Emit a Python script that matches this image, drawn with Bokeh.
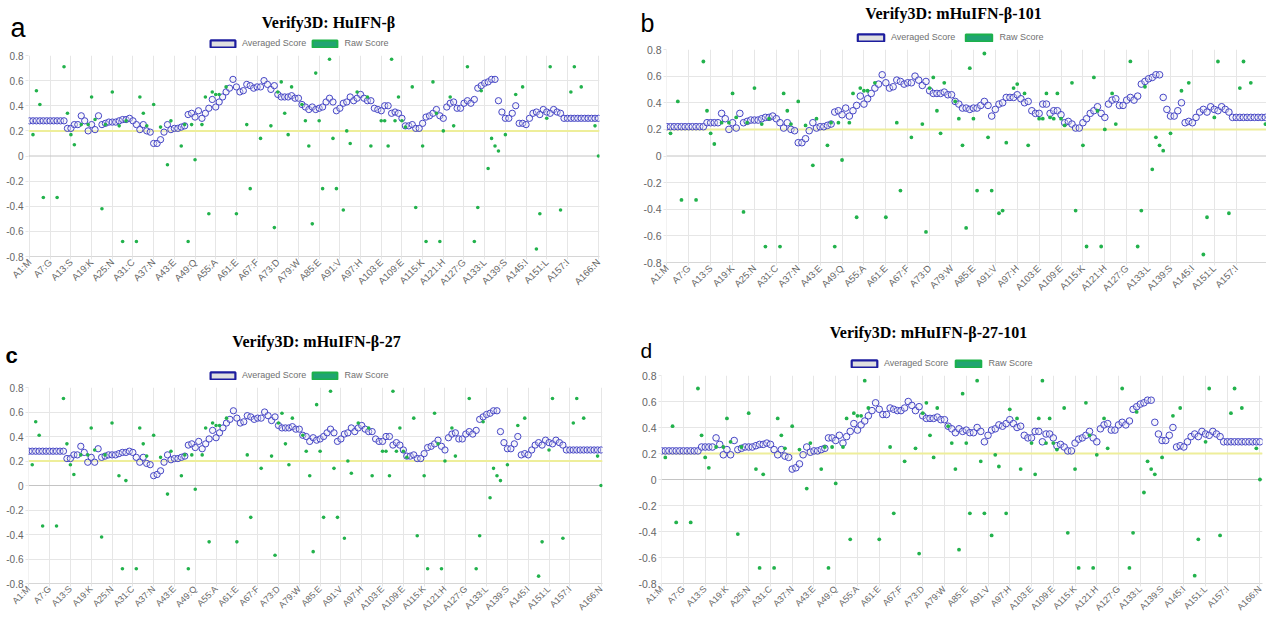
import math
import numpy as np
from bokeh.plotting import figure
from bokeh.models import (Range1d, FixedTicker, Span, Label, Legend, LegendItem,
                          ColumnDataSource, NumeralTickFormatter)
from bokeh.layouts import row, column
from bokeh.embed import file_html
from bokeh.resources import INLINE

N = None
RESIDUES = list(range(1, 167))
TICK_POS = [1, 7, 13, 19, 25, 31, 37, 43, 49, 55, 61, 67, 73, 79, 85, 91, 97, 103,
            109, 115, 121, 127, 133, 139, 145, 151, 157, 166]
TICK_LABELS = ["A1:M", "A7:G", "A13:S", "A19:K", "A25:N", "A31:C", "A37:N", "A43:E",
               "A49:Q", "A55:A", "A61:E", "A67:F", "A73:D", "A79:W", "A85:E", "A91:V",
               "A97:H", "A103:E", "A109:E", "A115:K", "A121:H", "A127:G", "A133:L",
               "A139:S", "A145:I", "A151:L", "A157:I", "A166:N"]
Y_TICKS = [-0.8, -0.6, -0.4, -0.2, 0, 0.2, 0.4, 0.6, 0.8]
THRESHOLD = 0.2
SERIES_NAMES = ["Averaged Score", "Raw Score"]

TITLE_A = "Verify3D: HuIFN-β"
TITLE_B = "Verify3D: mHuIFN-β-101"
TITLE_C = "Verify3D: mHuIFN-β-27"
TITLE_D = "Verify3D: mHuIFN-β-27-101"

AVG_A = [0.28, 0.28, 0.28, 0.28, 0.28, 0.28, 0.28, 0.28, 0.28, 0.28,
         0.28, 0.22, 0.22, 0.25, 0.25, 0.32, 0.28, 0.20, 0.25, 0.21,
         0.32, 0.25, 0.26, 0.27, 0.27, 0.27, 0.28, 0.29, 0.29, 0.30,
         0.28, 0.25, 0.21, 0.25, 0.20, 0.19, 0.10, 0.10, 0.13, 0.19,
         0.25, 0.21, 0.22, 0.22, 0.23, 0.24, 0.33, 0.34, 0.31, 0.36,
         0.30, 0.34, 0.38, 0.45, 0.39, 0.43, 0.47, 0.51, 0.54, 0.61,
         0.55, 0.51, 0.52, 0.57, 0.56, 0.54, 0.55, 0.55, 0.60, 0.57,
         0.53, 0.56, 0.49, 0.47, 0.47, 0.47, 0.48, 0.46, 0.46, 0.41,
         0.39, 0.37, 0.39, 0.37, 0.38, 0.39, 0.43, 0.46, 0.43, 0.36,
         0.38, 0.42, 0.43, 0.47, 0.44, 0.46, 0.49, 0.46, 0.44, 0.44,
         0.38, 0.37, 0.36, 0.40, 0.40, 0.34, 0.35, 0.34, 0.30, 0.24,
         0.24, 0.25, 0.22, 0.22, 0.26, 0.31, 0.32, 0.34, 0.37, 0.32,
         0.30, 0.39, 0.42, 0.43, 0.38, 0.38, 0.42, 0.44, 0.42, 0.45,
         0.54, 0.56, 0.58, 0.59, 0.61, 0.61, 0.44, 0.35, 0.30, 0.30,
         0.34, 0.40, 0.26, 0.26, 0.25, 0.30, 0.34, 0.35, 0.33, 0.37,
         0.35, 0.34, 0.37, 0.35, 0.34, 0.30, 0.30, 0.30, 0.30, 0.30,
         0.30, 0.30, 0.30, 0.30, 0.30, 0.30]

RAW_A = [N, 0.17, 0.52, 0.41, -0.33, N, N, N, -0.33, N,
         0.71, 0.34, 0.17, 0.09, N, 0.25, N, 0.25, 0.47, 0.29,
         N, -0.42, 0.25, N, 0.51, N, 0.24, -0.68, 0.28, N,
         N, -0.68, 0.47, 0.34, 0.24, N, 0.41, N, 0.23, N,
         -0.07, 0.28, N, N, 0.08, 0.25, -0.68, 0.25, -0.03, N,
         0.25, 0.47, -0.46, 0.51, 0.49, 0.49, N, 0.55, N, N,
         -0.46, N, N, 0.25, -0.26, N, N, 0.14, N, N,
         0.24, -0.57, 0.51, 0.59, 0.34, 0.17, 0.55, N, N, 0.41,
         0.28, 0.08, -0.54, 0.66, 0.28, -0.26, N, 0.77, 0.14, -0.26,
         N, -0.43, 0.20, 0.10, N, 0.51, N, N, 0.47, 0.08,
         N, N, 0.28, 0.28, 0.08, 0.77, 0.28, 0.47, 0.28, 0.23,
         N, 0.55, -0.41, N, 0.08, -0.68, N, 0.59, 0.34, -0.68,
         0.20, N, 0.47, 0.24, N, N, N, 0.71, N, -0.68,
         -0.41, 0.52, N, -0.10, 0.14, 0.08, 0.04, N, 0.17, N,
         N, 0.49, N, 0.55, N, N, N, -0.74, -0.46, N,
         0.30, 0.71, N, N, -0.43, N, N, 0.51, 0.71, N,
         0.55, N, N, N, 0.24, 0.00]

AVG_B = [0.22, 0.22, 0.22, 0.22, 0.22, 0.22, 0.22, 0.22, 0.22, 0.22,
         0.22, 0.25, 0.25, 0.25, 0.25, 0.32, 0.28, 0.20, 0.25, 0.21,
         0.32, 0.25, 0.26, 0.27, 0.27, 0.27, 0.28, 0.29, 0.29, 0.30,
         0.28, 0.25, 0.21, 0.25, 0.20, 0.19, 0.10, 0.10, 0.13, 0.19,
         0.25, 0.21, 0.22, 0.22, 0.23, 0.24, 0.33, 0.34, 0.31, 0.36,
         0.30, 0.34, 0.38, 0.45, 0.39, 0.43, 0.47, 0.51, 0.54, 0.61,
         0.55, 0.51, 0.52, 0.57, 0.56, 0.54, 0.55, 0.55, 0.60, 0.57,
         0.53, 0.56, 0.49, 0.47, 0.47, 0.47, 0.48, 0.46, 0.46, 0.41,
         0.39, 0.36, 0.36, 0.35, 0.36, 0.36, 0.38, 0.41, 0.38, 0.30,
         0.35, 0.39, 0.40, 0.44, 0.44, 0.44, 0.46, 0.43, 0.40, 0.41,
         0.34, 0.32, 0.32, 0.39, 0.39, 0.32, 0.34, 0.34, 0.31, 0.25,
         0.26, 0.24, 0.21, 0.21, 0.25, 0.28, 0.32, 0.34, 0.37, 0.32,
         0.29, 0.39, 0.42, 0.43, 0.38, 0.38, 0.42, 0.44, 0.42, 0.45,
         0.54, 0.56, 0.58, 0.59, 0.61, 0.61, 0.44, 0.35, 0.30, 0.30,
         0.34, 0.40, 0.25, 0.26, 0.25, 0.29, 0.33, 0.35, 0.33, 0.37,
         0.35, 0.34, 0.37, 0.35, 0.33, 0.29, 0.29, 0.29, 0.29, 0.29,
         0.29, 0.29, 0.29, 0.29, 0.29, 0.29]

RAW_B = [N, 0.17, N, 0.41, -0.33, N, N, N, -0.33, N,
         0.71, 0.34, 0.17, 0.09, N, 0.25, N, 0.25, 0.47, 0.29,
         N, -0.42, 0.25, N, 0.51, N, 0.24, -0.68, 0.28, N,
         N, -0.68, 0.47, 0.34, 0.24, N, 0.41, N, 0.23, N,
         -0.07, 0.28, N, N, 0.08, 0.25, -0.68, 0.25, -0.03, N,
         0.25, 0.47, -0.46, 0.51, 0.49, 0.49, N, 0.55, N, N,
         -0.46, N, N, 0.25, -0.26, N, N, 0.14, N, N,
         0.24, -0.57, 0.51, 0.59, 0.34, 0.17, 0.55, N, N, 0.41,
         0.28, 0.08, -0.54, 0.66, 0.28, -0.26, N, 0.77, 0.14, -0.26,
         N, -0.43, -0.41, 0.10, N, 0.51, 0.54, N, 0.47, 0.08,
         N, N, 0.28, 0.28, 0.47, 0.29, 0.28, 0.47, 0.28, 0.23,
         N, 0.55, -0.41, N, 0.08, -0.68, N, 0.59, 0.34, -0.68,
         0.20, N, 0.47, 0.24, N, N, N, 0.71, N, -0.68,
         -0.41, 0.52, N, -0.10, 0.14, 0.08, 0.04, N, 0.17, N,
         N, 0.49, N, 0.55, N, N, N, -0.74, -0.46, N,
         0.29, 0.71, N, N, -0.43, N, N, 0.51, 0.71, N,
         0.55, N, N, N, 0.24, 0.00]

AVG_C = [0.28, 0.28, 0.28, 0.28, 0.28, 0.28, 0.28, 0.28, 0.28, 0.28,
         0.28, 0.22, 0.22, 0.25, 0.25, 0.32, 0.27, 0.19, 0.23, 0.19,
         0.30, 0.23, 0.24, 0.25, 0.25, 0.25, 0.26, 0.27, 0.27, 0.28,
         0.27, 0.23, 0.19, 0.23, 0.18, 0.17, 0.08, 0.09, 0.12, 0.19,
         0.25, 0.21, 0.22, 0.22, 0.23, 0.24, 0.33, 0.34, 0.31, 0.36,
         0.30, 0.34, 0.38, 0.45, 0.39, 0.43, 0.47, 0.51, 0.54, 0.61,
         0.55, 0.51, 0.52, 0.57, 0.56, 0.54, 0.55, 0.55, 0.60, 0.57,
         0.53, 0.56, 0.49, 0.47, 0.47, 0.47, 0.48, 0.46, 0.46, 0.41,
         0.40, 0.36, 0.39, 0.37, 0.38, 0.40, 0.43, 0.46, 0.43, 0.36,
         0.38, 0.42, 0.43, 0.47, 0.44, 0.47, 0.49, 0.46, 0.44, 0.44,
         0.38, 0.36, 0.36, 0.40, 0.40, 0.33, 0.35, 0.33, 0.29, 0.24,
         0.24, 0.25, 0.22, 0.22, 0.26, 0.31, 0.32, 0.34, 0.37, 0.32,
         0.29, 0.39, 0.42, 0.43, 0.38, 0.38, 0.42, 0.44, 0.42, 0.45,
         0.54, 0.56, 0.58, 0.59, 0.61, 0.61, 0.44, 0.35, 0.30, 0.30,
         0.34, 0.40, 0.25, 0.26, 0.25, 0.29, 0.33, 0.35, 0.33, 0.37,
         0.35, 0.34, 0.37, 0.35, 0.33, 0.29, 0.29, 0.29, 0.29, 0.29,
         0.29, 0.29, 0.29, 0.29, 0.29, 0.29]

RAW_C = [N, 0.17, 0.52, 0.41, -0.33, N, N, N, -0.33, N,
         0.71, 0.34, 0.17, 0.09, N, 0.25, N, 0.25, 0.47, 0.29,
         N, -0.42, 0.25, N, 0.51, N, 0.08, -0.68, 0.04, N,
         N, -0.68, 0.47, 0.34, 0.24, N, 0.41, N, 0.23, N,
         -0.07, 0.28, N, N, 0.08, 0.25, -0.68, 0.25, -0.03, N,
         0.25, 0.47, -0.46, 0.51, 0.49, 0.49, N, 0.55, N, N,
         -0.46, N, N, 0.25, -0.26, N, N, 0.14, N, N,
         0.24, -0.57, 0.51, 0.59, 0.34, 0.17, 0.55, N, N, 0.41,
         0.28, 0.08, -0.54, 0.66, 0.28, -0.26, N, 0.77, 0.14, -0.26,
         N, -0.43, 0.20, 0.10, N, 0.51, N, N, 0.47, 0.08,
         N, N, 0.28, 0.28, 0.08, 0.77, 0.28, 0.47, 0.28, 0.23,
         N, 0.55, -0.41, N, 0.08, -0.68, N, 0.59, 0.34, -0.68,
         0.20, N, 0.47, 0.24, N, N, N, 0.71, N, -0.68,
         -0.41, 0.52, N, -0.10, 0.14, 0.08, 0.04, N, 0.17, N,
         N, 0.49, N, 0.55, N, N, N, -0.74, -0.46, N,
         0.29, 0.71, N, N, -0.43, N, N, 0.51, 0.71, N,
         0.55, N, N, N, 0.24, 0.00]

AVG_D = [0.22, 0.22, 0.22, 0.22, 0.22, 0.22, 0.22, 0.22, 0.22, 0.22,
         0.22, 0.25, 0.25, 0.25, 0.25, 0.32, 0.27, 0.19, 0.23, 0.19,
         0.30, 0.23, 0.24, 0.25, 0.25, 0.25, 0.26, 0.27, 0.27, 0.28,
         0.27, 0.23, 0.19, 0.23, 0.18, 0.17, 0.08, 0.09, 0.12, 0.19,
         0.25, 0.21, 0.22, 0.22, 0.23, 0.24, 0.32, 0.32, 0.30, 0.34,
         0.28, 0.33, 0.37, 0.43, 0.38, 0.42, 0.45, 0.49, 0.53, 0.59,
         0.54, 0.50, 0.50, 0.55, 0.54, 0.53, 0.53, 0.55, 0.60, 0.57,
         0.53, 0.56, 0.49, 0.47, 0.47, 0.47, 0.48, 0.46, 0.46, 0.41,
         0.39, 0.36, 0.39, 0.37, 0.38, 0.36, 0.36, 0.40, 0.37, 0.29,
         0.34, 0.38, 0.39, 0.42, 0.41, 0.43, 0.46, 0.43, 0.40, 0.41,
         0.34, 0.32, 0.32, 0.37, 0.37, 0.29, 0.35, 0.35, 0.32, 0.26,
         0.27, 0.25, 0.22, 0.22, 0.28, 0.31, 0.32, 0.34, 0.37, 0.32,
         0.29, 0.39, 0.42, 0.43, 0.38, 0.38, 0.42, 0.44, 0.42, 0.45,
         0.54, 0.56, 0.58, 0.59, 0.61, 0.61, 0.44, 0.35, 0.30, 0.30,
         0.34, 0.40, 0.25, 0.26, 0.25, 0.29, 0.33, 0.35, 0.33, 0.37,
         0.35, 0.34, 0.37, 0.35, 0.33, 0.29, 0.29, 0.29, 0.29, 0.29,
         0.29, 0.29, 0.29, 0.29, 0.29, 0.29]

RAW_D = [N, 0.17, N, 0.41, -0.33, N, N, N, -0.33, N,
         0.70, 0.34, 0.17, 0.09, N, 0.25, N, 0.25, 0.47, 0.29,
         N, -0.42, 0.25, N, 0.51, N, 0.08, -0.68, 0.04, N,
         N, -0.68, 0.47, 0.34, 0.24, N, 0.41, N, 0.23, N,
         -0.07, 0.28, N, N, 0.08, 0.25, -0.68, 0.25, -0.03, N,
         0.25, 0.47, -0.46, 0.51, 0.49, 0.49, 0.76, 0.55, N, N,
         -0.46, N, N, 0.25, -0.26, N, N, 0.14, N, N,
         0.24, -0.57, 0.51, 0.59, 0.34, 0.17, 0.55, N, N, 0.41,
         0.28, 0.08, -0.54, 0.66, 0.28, -0.26, N, 0.76, 0.14, -0.26,
         N, -0.43, 0.19, 0.10, N, -0.26, 0.54, N, 0.47, 0.08,
         N, N, 0.28, 0.04, 0.47, 0.76, 0.28, 0.47, 0.28, 0.23,
         N, 0.55, -0.41, N, 0.08, -0.68, N, 0.59, 0.34, -0.68,
         0.19, N, 0.47, 0.24, N, N, N, 0.70, N, -0.68,
         -0.41, 0.52, N, -0.10, 0.14, 0.08, 0.04, N, 0.17, N,
         N, 0.49, N, 0.55, N, N, N, -0.74, -0.46, N,
         0.29, 0.70, N, N, -0.43, N, N, 0.51, 0.70, N,
         0.55, N, N, N, 0.24, 0.00]

for arr in (AVG_A, RAW_A, AVG_B, RAW_B, AVG_C, RAW_C, AVG_D, RAW_D):
    assert len(arr) == 166, len(arr)

GRID = "#e6e6e6"
TXT = "#666666"


def no_align(p):
    try:
        p.frame_align = False
    except Exception:
        pass


def make_header(title, letter, g):
    w, hh = g["w"], g["hh"]
    p = figure(width=w, height=hh, x_range=Range1d(0, w), y_range=Range1d(0, hh),
               x_axis_type=None, y_axis_type=None,
               output_backend="svg", toolbar_location=None,
               min_border_left=0, min_border_right=0, min_border_top=0,
               min_border_bottom=0)
    no_align(p)
    p.title.visible = False
    p.outline_line_color = None
    p.xgrid.visible = False
    p.ygrid.visible = False

    # legend-only swatches (no visible marks: NaN extents)
    swatch = ColumnDataSource(dict(l=[np.nan], r=[np.nan], b=[np.nan], t=[np.nan]))
    box_avg = p.quad(left="l", right="r", bottom="b", top="t", source=swatch,
                     fill_color="#e0e0e0", line_color="#1d1d9e", line_width=2.2)
    box_raw = p.quad(left="l", right="r", bottom="b", top="t", source=swatch,
                     fill_color="#20a472", line_color="#1cb14b", line_width=2)
    legend = Legend(items=[LegendItem(label=SERIES_NAMES[0], renderers=[box_avg]),
                           LegendItem(label=SERIES_NAMES[1], renderers=[box_raw])],
                    location=(g["lgx"], g["lgy"]),
                    orientation="horizontal",
                    glyph_width=g["gw"], glyph_height=9, label_height=9,
                    label_standoff=4, spacing=g["sp"], padding=0, margin=0,
                    border_line_alpha=0, background_fill_alpha=0,
                    label_text_font="Liberation Sans", label_text_font_size="9px",
                    label_text_color="#707070")
    p.add_layout(legend)

    p.add_layout(Label(x=g["tx"], y=g["ty"], text=title, text_align="center",
                       text_baseline="middle", text_font="Liberation Serif",
                       text_font_style="bold", text_font_size="16px",
                       text_color="black"))
    p.add_layout(Label(x=g["lx"], y=g["ly"], text=letter, text_align="left",
                       text_baseline="middle", text_font="Liberation Sans",
                       text_font_style=g["lst"], text_font_size=g["lfs"],
                       text_color="black"))
    return p


def make_chart(avg, raw, g):
    p = figure(width=g["w"], height=g["h"],
               x_range=Range1d(*g["xr"]), y_range=Range1d(-0.8, 0.8),
               output_backend="svg", toolbar_location=None,
               min_border_left=g["l"], min_border_right=g["r"],
               min_border_top=6, min_border_bottom=g["b"])
    no_align(p)
    p.title.visible = False
    p.outline_line_color = None

    p.xgrid.ticker = FixedTicker(ticks=TICK_POS)
    p.xgrid.grid_line_color = GRID
    p.ygrid.ticker = FixedTicker(ticks=[-0.6, -0.4, -0.2, 0.2, 0.4, 0.6, 0.8])
    p.ygrid.grid_line_color = GRID

    xa = p.xaxis[0]
    xa.ticker = FixedTicker(ticks=TICK_POS)
    xa.major_label_overrides = {t: s for t, s in zip(TICK_POS, TICK_LABELS)}
    xa.major_label_orientation = math.pi / 4
    xa.major_label_text_font = "Liberation Sans"
    xa.major_label_text_font_size = g["xf"]
    xa.major_label_text_color = TXT
    xa.major_label_standoff = 1
    xa.major_tick_out = 3
    xa.major_tick_in = 0
    xa.major_tick_line_color = GRID
    xa.minor_tick_line_color = None
    xa.axis_line_color = "#d6d6d6"

    ya = p.yaxis[0]
    ya.ticker = FixedTicker(ticks=Y_TICKS)
    ya.formatter = NumeralTickFormatter(format="0.[0]")
    ya.major_label_text_font = "Liberation Sans"
    ya.major_label_text_font_size = g["yf"]
    ya.major_label_text_color = TXT
    ya.major_label_standoff = 2
    ya.major_tick_out = 3
    ya.major_tick_in = 0
    ya.major_tick_line_color = GRID
    ya.minor_tick_line_color = None
    ya.axis_line_color = None

    p.add_layout(Span(location=0, dimension="width", line_color="#c4c4c4",
                      line_width=1, level="underlay"))
    p.add_layout(Span(location=THRESHOLD, dimension="width", line_color="#eeee9a",
                      line_width=2, level="underlay"))

    src = ColumnDataSource(dict(x=RESIDUES,
                                avg=np.array(avg, dtype=float),
                                raw=np.array(raw, dtype=float)))
    p.scatter("x", "avg", source=src, marker="circle", size=g["cs"],
              line_color="#4646c6", line_width=1.0,
              fill_color="#ececf4", fill_alpha=0.4)
    p.scatter("x", "raw", source=src, marker="circle", size=g["ds"],
              fill_color="#22b24c", line_color=None)
    return p


# panel geometry (pixels; header y measured upward from the header's bottom)
HEAD_A = dict(w=630, hh=49, tx=328, ty=26.6, lx=10, ly=21.4, lfs="27px", lst="normal",
              lgx=207, lgy=0.8, gw=31, sp=3)
HEAD_B = dict(w=636, hh=43, tx=323, ty=29.6, lx=10, ly=20.7, lfs="25px", lst="normal",
              lgx=224, lgy=0.8, gw=33, sp=7)
HEAD_C = dict(w=630, hh=71, tx=316, ty=40.1, lx=5, ly=25.7, lfs="22px", lst="bold",
              lgx=207, lgy=0.8, gw=31, sp=3)
HEAD_D = dict(w=636, hh=59, tx=298, ty=37.1, lx=10, ly=19.4, lfs="21px", lst="normal",
              lgx=218, lgy=0.8, gw=32, sp=4)

CHART_A = dict(w=630, h=261, l=28, r=31, b=54, xr=(0.7, 166.3), xf="9.5px", yf="10px",
               cs=6.3, ds=3.6)
CHART_B = dict(w=636, h=267, l=36, r=0, b=48, xr=(0.9, 165.3), xf="9.5px", yf="10.5px",
               cs=6.6, ds=3.8)
CHART_C = dict(w=630, h=238, l=28, r=28, b=31, xr=(0.92, 166.42), xf="9px", yf="10px",
               cs=6.3, ds=3.6)
CHART_D = dict(w=636, h=250, l=31, r=4, b=32, xr=(0.95, 166.7), xf="9px", yf="10.5px",
               cs=6.6, ds=3.8)

col_left = column(make_header(TITLE_A, "a", HEAD_A), make_chart(AVG_A, RAW_A, CHART_A),
                  make_header(TITLE_C, "c", HEAD_C), make_chart(AVG_C, RAW_C, CHART_C))
col_right = column(make_header(TITLE_B, "b", HEAD_B), make_chart(AVG_B, RAW_B, CHART_B),
                   make_header(TITLE_D, "d", HEAD_D), make_chart(AVG_D, RAW_D, CHART_D))
layout = row(col_left, col_right)
open("out.html", "w").write(file_html(layout, INLINE))
